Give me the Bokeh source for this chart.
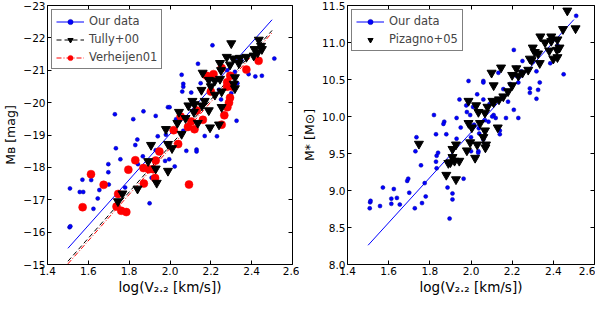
from bokeh.plotting import figure
from bokeh.layouts import row
from bokeh.models import (Range1d, LinearAxis, FixedTicker, Legend, LegendItem,
                          PrintfTickFormatter, CustomLabelingPolicy)
from bokeh.embed import file_html
from bokeh.resources import INLINE

FONT = "DejaVu Sans"

# ---------------- left panel data: log(V2.2) vs M_B ----------------
our_v = [2.208, 2.511, 2.137, 2.057, 2.065, 2.065, 2.060, 2.104, 1.99, 1.998, 1.73, 1.87, 1.82,
         1.93, 2.03, 2.065, 1.98, 1.94, 1.84, 1.83, 2.17, 2.23, 2.385, 2.418, 2.45, 2.326, 2.318,
         2.25, 2.30, 2.28, 2.33, 2.15, 2.20, 2.12, 2.24, 2.35, 2.42,
         1.51, 1.508, 1.512, 1.558, 1.575, 1.571, 1.614, 1.698, 1.698, 1.70, 1.654, 1.625, 1.646,
         1.735, 1.757, 1.78, 1.843, 1.867, 1.90, 1.976, 1.996, 2.023, 1.91, 1.93, 2.08, 2.13, 2.13]
our_mb = [-21.77, -21.36, -21.20, -20.86, -20.58, -20.49, -20.34, -20.31, -19.86, -19.86, -19.64,
          -19.73, -19.49, -19.59, -19.49, -19.13, -19.01, -18.96, -18.86, -18.69, -18.97, -18.96,
          -20.88, -20.81, -20.83, -19.44, -20.95, -20.10, -20.29, -21.00, -20.60, -20.60, -20.50,
          -19.80, -20.40, -21.30, -21.50,
          -17.35, -16.15, -16.18, -17.24, -17.24, -17.62, -17.61, -17.85, -18.10, -17.47, -17.30,
          -16.72, -17.04, -18.59, -18.25, -17.38, -18.10, -18.34, -16.89, -18.20, -18.25, -18.03,
          -17.68, -18.53, -18.51, -18.55, -18.49]

tully_v = [1.767, 1.841, 1.893, 1.93, 1.935, 1.99, 2.01, 1.745,
           2.30, 2.435, 2.446, 2.414, 2.43, 2.278, 2.31, 2.342, 2.374, 2.337, 2.294, 2.245, 2.16,
           2.19, 2.22, 2.245, 2.318, 2.312, 2.318, 2.154, 2.253, 2.22, 2.11, 2.17, 2.12, 2.157,
           2.09, 2.19, 2.044, 2.117, 2.253, 2.076, 2.036, 1.98, 2.136, 2.24, 2.196, 1.907, 1.99,
           2.057, 2.41, 2.45, 2.25, 2.20]
tully_mb = [-17.19, -17.34, -18.19, -17.96, -17.52, -17.89, -18.59, -16.95,
            -21.83, -21.94, -21.75, -21.65, -21.55, -21.41, -21.36, -21.38, -21.41, -21.22, -21.17,
            -21.22, -20.92, -20.70, -20.68, -20.73, -20.78, -20.58, -20.44, -20.39, -20.34, -20.24,
            -20.05, -20.05, -19.95, -19.91, -19.91, -19.76, -19.71, -19.71, -19.86, -19.52, -19.37,
            -19.18, -19.37, -19.32, -19.23, -18.69, -18.72, -19.03, -21.45, -21.65, -21.00, -20.50]

verh_v = [1.572, 1.613, 1.675, 1.746, 1.738, 1.761, 1.786, 1.796, 1.83, 1.872, 1.87, 1.896, 1.918,
          1.93, 1.927, 1.948, 2.093,
          2.253, 2.213, 2.18, 2.295, 2.28, 2.28, 2.307, 2.20, 2.294, 2.289, 2.281, 2.131, 2.161,
          2.104, 2.088, 2.12, 2.052, 2.018, 2.04, 2.266, 2.253, 2.374, 2.434]
verh_mb = [-16.77, -17.79, -17.46, -17.18, -16.79, -16.66, -16.62, -17.93, -18.22, -17.50, -17.98,
           -17.94, -17.94, -18.21, -17.67, -18.49, -17.47,
           -21.07, -20.88, -20.83, -20.83, -20.63, -20.49, -20.49, -20.34, -20.15, -20.00, -19.86,
           -19.76, -19.47, -19.42, -19.25, -19.18, -19.57, -19.15, -18.72, -19.61, -19.32, -21.02,
           -21.29]

fit_v = [1.5, 2.5]
fit_our_mb = [-15.50, -22.56]
fit_tully_mb = [-15.10, -22.23]
fit_verh_mb = [-15.02, -22.16]

# ---------------- right panel data: log(V2.2) vs log M* ----------------
our_v2 = [1.508, 1.51, 1.512, 1.558, 1.572, 1.613, 1.613, 1.625, 1.64, 1.654, 1.69, 1.695, 1.70,
          1.73, 1.757, 1.762, 1.727, 1.775, 1.78, 1.83, 1.833, 1.84, 1.833, 1.886, 1.91, 1.91,
          1.896, 1.964, 2.0, 2.036, 2.035,
          2.208, 2.511, 2.45, 2.42, 2.385, 2.318, 2.334, 2.326, 2.318, 2.286, 2.286, 2.30, 2.25,
          2.22, 2.22, 2.19, 2.245, 2.23, 2.157, 2.133, 2.06, 2.06, 1.988, 1.944, 1.82, 1.87,
          1.866, 1.88, 1.83, 1.93, 1.977, 2.01, 2.03, 2.06, 2.09, 2.11, 2.103, 2.085, 2.068,
          2.14, 2.14, 2.015, 2.038, 2.04, 2.06, 2.0, 1.95, 1.93, 1.996, 1.98, 2.17, 2.23, 2.18,
          2.208, 2.12, 2.0, 1.735]
our_ms = [8.76, 8.84, 8.86, 8.79, 9.04, 8.82, 8.89, 9.02, 8.90, 8.81, 9.13, 9.16, 8.97, 9.53,
          9.34, 8.83, 8.76, 9.10, 8.92, 9.39, 9.47, 9.51, 9.30, 9.04, 8.96, 8.88, 8.62, 9.16,
          9.53, 9.53, 9.51,
          10.90, 11.36, 10.57, 10.96, 10.72, 10.61, 10.46, 10.36, 10.24, 10.38, 10.32, 10.74,
          10.75, 10.66, 10.55, 10.44, 10.61, 10.46, 10.37, 10.59, 10.48, 10.46, 10.48, 10.23,
          10.02, 9.93, 9.90, 9.76, 9.76, 9.98, 10.15, 10.13, 10.30, 10.23, 10.17, 10.02, 10.00,
          9.93, 9.95, 9.81, 9.76, 9.89, 9.84, 9.77, 9.69, 9.72, 9.85, 9.70, 10.02, 10.06, 9.98,
          9.98, 10.20, 10.09, 9.98, 9.87, 9.72]

piz_v = [1.88, 1.89, 1.90, 1.91, 1.92, 1.943, 1.927, 1.91, 1.98, 2.02, 2.07,
         2.468, 2.508, 2.447, 2.39, 2.39, 2.337, 2.36, 2.42, 2.43, 2.418, 2.38, 2.30, 2.31, 2.326,
         2.286, 2.334, 2.294, 2.42, 2.40, 2.146, 2.22, 2.20, 2.23, 2.25, 2.278, 2.10, 2.11, 2.20,
         2.18, 2.157, 2.136, 2.11, 1.988, 2.025, 2.036, 2.068, 2.104, 2.08, 2.044, 2.06, 1.988,
         2.004, 2.068, 2.13, 1.747, 1.927, 1.996, 2.03, 2.073]
piz_ms = [9.21, 9.37, 9.38, 9.45, 9.40, 9.40, 9.15, 9.56, 9.54, 9.44, 9.58,
          11.43, 11.19, 11.18, 11.08, 11.02, 11.08, 11.00, 11.04, 10.93, 10.90, 10.89, 10.93,
          10.87, 10.85, 10.78, 10.72, 10.76, 10.80, 10.78, 10.66, 10.65, 10.56, 10.55, 10.59,
          10.63, 10.59, 10.42, 10.42, 10.34, 10.27, 10.23, 10.19, 10.21, 10.15, 10.06, 10.05,
          10.21, 10.13, 9.91, 9.72, 9.91, 9.85, 9.81, 9.85, 9.63, 9.62, 9.65, 9.62, 9.62]

fit_our_ms = [8.26, 11.31]

x_ticks = [1.4, 1.6, 1.8, 2.0, 2.2, 2.4, 2.6]
mb_ticks = [-23, -22, -21, -20, -19, -18, -17, -16, -15]
ms_ticks = [8.0, 8.5, 9.0, 9.5, 10.0, 10.5, 11.0, 11.5]

x_label = "log(V\u2082.\u2082 [km/s])"
y_label_left = "M\u0299 [mag]"
y_label_right = "M* [M\u2299]"

BORDER_TOP = 5
FRAME_H = 259
BORDER_BOTTOM = 34

HIDE_LABELS = CustomLabelingPolicy(code="""
const ids = Array.from(indices)
for (const i of ids) indices.unset(i)
return indices
""")


def make_fig(y_range, border_left, border_right, frame_w, ylabel):
    p = figure(x_range=Range1d(1.4, 2.6), y_range=y_range,
               frame_width=frame_w, frame_height=FRAME_H,
               min_border_left=border_left, min_border_right=border_right,
               min_border_top=BORDER_TOP, min_border_bottom=BORDER_BOTTOM,
               output_backend="svg", toolbar_location=None)
    p.xgrid.visible = False
    p.ygrid.visible = False
    p.outline_line_color = "black"
    p.outline_line_width = 1
    p.outline_line_alpha = 1
    p.background_fill_color = "white"
    p.border_fill_color = "white"
    for ax in p.axis:
        ax.major_tick_in = 4
        ax.major_tick_out = 0
        ax.minor_tick_line_color = None
        ax.axis_line_color = None
        ax.major_label_text_font = FONT
        ax.major_label_text_font_size = "10.5px"
        ax.major_label_text_color = "black"
        ax.major_label_standoff = 2
        ax.axis_label_text_font = FONT
        ax.axis_label_text_font_style = "normal"
        ax.axis_label_text_color = "black"
    p.xaxis.ticker = FixedTicker(ticks=x_ticks)
    p.xaxis.formatter = PrintfTickFormatter(format="%.1f")
    p.xaxis.axis_label = x_label
    p.xaxis.axis_label_text_font_size = "13.5px"
    p.xaxis.axis_label_standoff = 1
    p.yaxis.axis_label = ylabel
    p.yaxis.axis_label_text_font_size = "12.5px"
    p.yaxis.axis_label_standoff = 2
    return p


def add_mirror_axes(p, yticks):
    for loc, tks in (("right", yticks), ("above", x_ticks)):
        ax = LinearAxis(ticker=FixedTicker(ticks=tks), major_tick_in=4, major_tick_out=0,
                        minor_tick_line_color=None, axis_line_color=None,
                        major_label_text_font_size="0px", major_label_standoff=0,
                        major_label_policy=HIDE_LABELS)
        p.add_layout(ax, loc)


def style_legend(items):
    lg = Legend(items=items, location="top_left")
    lg.label_text_font = FONT
    lg.label_text_font_size = "11.5px"
    lg.border_line_color = "black"
    lg.border_line_width = 1
    lg.glyph_width = 28
    lg.glyph_height = 13
    lg.label_height = 13
    lg.spacing = 4
    lg.padding = 4
    lg.margin = 4
    lg.label_standoff = 5
    return lg


# ---------------- left figure ----------------
p1 = make_fig(Range1d(-15, -23), 40, 7, 245, y_label_left)
p1.yaxis.ticker = FixedTicker(ticks=mb_ticks)
p1.yaxis.major_label_overrides = {t: "\u2212" + str(abs(t)) for t in mb_ticks}
add_mirror_axes(p1, mb_ticks)

r_fit_our = p1.line(fit_v, fit_our_mb, line_color="blue", line_width=1)
r_fit_tully = p1.line(fit_v, fit_tully_mb, line_color="black", line_width=1, line_dash="5 3")
r_fit_verh = p1.line(fit_v, fit_verh_mb, line_color="red", line_width=1, line_dash="5 2 1 2")
r_our = p1.scatter(our_v, our_mb, marker="circle", size=4, fill_color="blue",
                   line_color="#0000a0", line_width=0.5)
r_verh = p1.scatter(verh_v, verh_mb, marker="circle", size=8, fill_color="red",
                    line_color="red", line_width=0.5)
r_tully = p1.scatter(tully_v, tully_mb, marker="inverted_triangle", size=9,
                     fill_color="black", line_color="black")
p1.add_layout(style_legend([
    LegendItem(label="Our data", renderers=[r_fit_our, r_our]),
    LegendItem(label="Tully+00", renderers=[r_fit_tully, r_tully]),
    LegendItem(label="Verheijen01", renderers=[r_fit_verh, r_verh]),
]))

# ---------------- right figure ----------------
p2 = make_fig(Range1d(8.0, 11.5), 44, 1, 247, y_label_right)
p2.yaxis.ticker = FixedTicker(ticks=ms_ticks)
p2.yaxis.formatter = PrintfTickFormatter(format="%.1f")
add_mirror_axes(p2, ms_ticks)

r2_fit = p2.line(fit_v, fit_our_ms, line_color="blue", line_width=1)
r2_our = p2.scatter(our_v2, our_ms, marker="circle", size=4, fill_color="blue",
                    line_color="#0000a0", line_width=0.5)
r2_piz = p2.scatter(piz_v, piz_ms, marker="inverted_triangle", size=9,
                    fill_color="black", line_color="black")
r2_piz_leg = p2.line([], [], line_color="black", line_width=1, line_dash="5 3")
p2.add_layout(style_legend([
    LegendItem(label="Our data", renderers=[r2_fit, r2_our]),
    LegendItem(label="Pizagno+05", renderers=[r2_piz_leg, r2_piz]),
]))

layout = row(p1, p2, spacing=0)
open("out.html", "w").write(file_html(layout, INLINE))
